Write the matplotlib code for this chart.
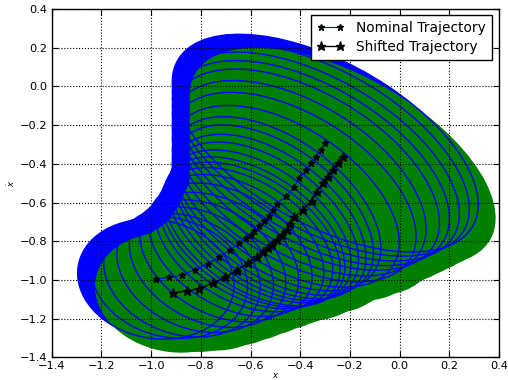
import numpy as np
import matplotlib
matplotlib.use("Agg")
import matplotlib.pyplot as plt
from matplotlib.patches import Ellipse

# Shifted trajectory (lower curve)
shift_x = [-0.911, -0.857, -0.806, -0.753, -0.703, -0.656, -0.612, -0.575, -0.549, -0.529, -0.515, -0.495,
           -0.475, -0.455, -0.440, -0.425, -0.388, -0.354, -0.334, -0.307, -0.287, -0.267, -0.247, -0.229]
shift_y = [-1.066, -1.057, -1.045, -1.017, -0.986, -0.952, -0.914, -0.880, -0.854, -0.836, -0.819, -0.793,
           -0.767, -0.742, -0.709, -0.676, -0.638, -0.590, -0.544, -0.500, -0.466, -0.432, -0.397, -0.363]
# Nominal trajectory (upper curve)
nom_x = [-0.981, -0.927, -0.876, -0.823, -0.773, -0.726, -0.682, -0.645, -0.619, -0.599, -0.585, -0.565,
         -0.545, -0.525, -0.510, -0.495, -0.458, -0.424, -0.404, -0.377, -0.357, -0.337, -0.317, -0.299]
nom_y = [-0.996, -0.987, -0.975, -0.947, -0.916, -0.882, -0.844, -0.810, -0.784, -0.766, -0.749, -0.723,
         -0.697, -0.672, -0.639, -0.606, -0.568, -0.520, -0.474, -0.430, -0.396, -0.362, -0.327, -0.293]
# Funnel ellipse extents (half-extent in x, half-extent in y, correlation)
half_x = [0.315, 0.315, 0.315, 0.315, 0.315, 0.320, 0.330, 0.340, 0.350, 0.360, 0.365, 0.370,
          0.380, 0.390, 0.405, 0.420, 0.457, 0.491, 0.511, 0.538, 0.558, 0.578, 0.598, 0.616]
half_y = [0.310, 0.315, 0.320, 0.325, 0.330, 0.335, 0.345, 0.355, 0.365, 0.375, 0.385, 0.395,
          0.410, 0.425, 0.440, 0.450, 0.470, 0.490, 0.505, 0.520, 0.530, 0.540, 0.550, 0.563]
corr = [-0.10, -0.15, -0.20, -0.25, -0.30, -0.35, -0.40, -0.43, -0.45, -0.47, -0.48, -0.49,
        -0.49, -0.50, -0.50, -0.51, -0.51, -0.52, -0.52, -0.53, -0.54, -0.55, -0.555, -0.563]

x_ticks = [-1.4, -1.2, -1.0, -0.8, -0.6, -0.4, -0.2, 0.0, 0.2, 0.4]
y_ticks = [-1.4, -1.2, -1.0, -0.8, -0.6, -0.4, -0.2, 0.0, 0.2, 0.4]


def ellipse_params(ax_, ay_, r_):
    S = np.array([[ax_ ** 2, r_ * ax_ * ay_], [r_ * ax_ * ay_, ay_ ** 2]])
    w, v = np.linalg.eigh(S)
    width = 2 * np.sqrt(w[1])
    height = 2 * np.sqrt(w[0])
    angle = np.degrees(np.arctan2(v[1, 1], v[0, 1]))
    return width, height, angle


plt.rcParams['font.family'] = ['DejaVu Sans']
fig = plt.figure(figsize=(5.08, 3.80), dpi=100)
fig.patch.set_facecolor('white')
ax = fig.add_axes([0.102, 0.0597, 0.880, 0.9163])

n = len(shift_x)
# nominal funnel fill (blue)
for k in range(n):
    w_, h_, a_ = ellipse_params(half_x[k], half_y[k], corr[k])
    ax.add_patch(Ellipse((nom_x[k], nom_y[k]), w_, h_, angle=a_, facecolor='b',
                         edgecolor='none', zorder=1))
# shifted funnel fill (green)
for k in range(n):
    w_, h_, a_ = ellipse_params(half_x[k], half_y[k], corr[k])
    ax.add_patch(Ellipse((shift_x[k], shift_y[k]), w_, h_, angle=a_, facecolor='g',
                         edgecolor='none', zorder=1.1))
# nominal funnel outlines
for k in range(n):
    w_, h_, a_ = ellipse_params(half_x[k], half_y[k], corr[k])
    ax.add_patch(Ellipse((nom_x[k], nom_y[k]), w_, h_, angle=a_, fill=False,
                         edgecolor='b', linewidth=1.0, zorder=1.2))

ax.plot(nom_x, nom_y, color='b', linewidth=0.8, marker='*', markersize=5,
        markerfacecolor='k', markeredgecolor='k', label='Nominal Trajectory', zorder=3)
ax.plot(shift_x, shift_y, color='k', linewidth=1.0, marker='*', markersize=6.5,
        markerfacecolor='k', markeredgecolor='k', label='Shifted Trajectory', zorder=3)

ax.set_xlim(-1.4, 0.4)
ax.set_ylim(-1.4, 0.4)
ax.set_xticks(x_ticks)
ax.set_yticks(y_ticks)
ax.set_xticklabels(['\u2212%.1f' % abs(v) if v < 0 else '%.1f' % v for v in x_ticks])
ax.set_yticklabels(['\u2212%.1f' % abs(v) if v < 0 else '%.1f' % v for v in y_ticks])
ax.tick_params(direction='in', length=4, width=0.8, top=True, right=True, labelsize=8.2, pad=3)
ax.grid(True, color='k', linestyle=':', linewidth=0.8)
for s in ax.spines.values():
    s.set_linewidth(1.0)

ax.set_xlabel('$x$', fontsize=6, labelpad=0)
ax.set_ylabel('$\\dot{x}$', fontsize=6, labelpad=2)

leg = ax.legend(loc='upper right', bbox_to_anchor=(0.985, 0.983), borderaxespad=0,
                numpoints=2, fontsize=9.9, fancybox=False, framealpha=1,
                handlelength=2.0, handletextpad=0.85, borderpad=0.45, labelspacing=0.35)
leg.get_frame().set_edgecolor('k')
leg.get_frame().set_linewidth(1.0)

fig.savefig('out.png', dpi=100, facecolor='white')
